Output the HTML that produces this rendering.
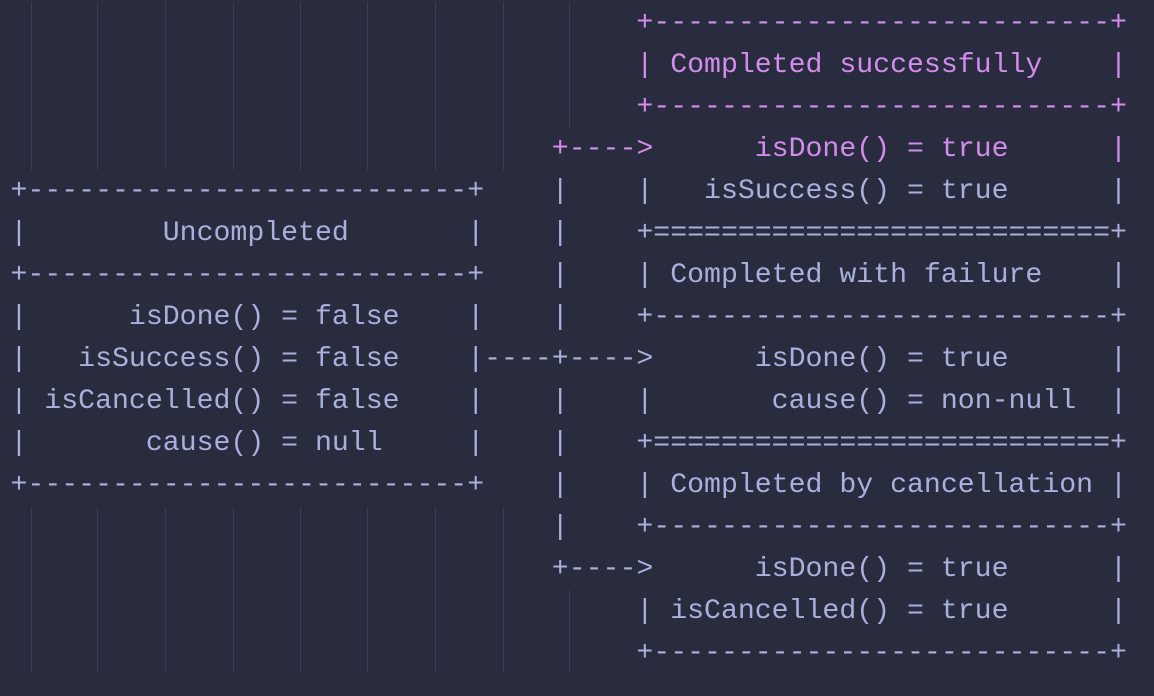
<!DOCTYPE html>
<html><head><meta charset="utf-8"><style>
html,body{margin:0;padding:0;background:#292c3e;width:1154px;height:696px;overflow:hidden}
.g{position:absolute;width:1px;background:#3a3d54}
pre{position:absolute;left:10.5px;top:3px;margin:0;font-family:"Liberation Mono",monospace;font-size:28.2px;line-height:42px;color:#aab0dc;white-space:pre}
.p{color:#d48cec}
</style></head><body>
<div class="g" style="left:31px;top:2px;height:168px"></div>
<div class="g" style="left:97px;top:2px;height:168px"></div>
<div class="g" style="left:165px;top:2px;height:168px"></div>
<div class="g" style="left:233px;top:2px;height:168px"></div>
<div class="g" style="left:300px;top:2px;height:168px"></div>
<div class="g" style="left:367px;top:2px;height:168px"></div>
<div class="g" style="left:435px;top:2px;height:168px"></div>
<div class="g" style="left:503px;top:2px;height:168px"></div>
<div class="g" style="left:569px;top:2px;height:125px"></div>
<div class="g" style="left:31px;top:507px;height:166px"></div>
<div class="g" style="left:97px;top:507px;height:166px"></div>
<div class="g" style="left:165px;top:507px;height:166px"></div>
<div class="g" style="left:233px;top:507px;height:166px"></div>
<div class="g" style="left:300px;top:507px;height:166px"></div>
<div class="g" style="left:367px;top:507px;height:166px"></div>
<div class="g" style="left:435px;top:507px;height:166px"></div>
<div class="g" style="left:503px;top:507px;height:166px"></div>
<div class="g" style="left:569px;top:590px;height:83px"></div>
<pre><span class="p">                                     +---------------------------+
                                     | Completed successfully    |
                                     +---------------------------+
                                +---->      isDone() = true      |</span>
+--------------------------+    |    |   isSuccess() = true      |
|        Uncompleted       |    |    +===========================+
+--------------------------+    |    | Completed with failure    |
|      isDone() = false    |    |    +---------------------------+
|   isSuccess() = false    |----+---->      isDone() = true      |
| isCancelled() = false    |    |    |       cause() = non-null  |
|       cause() = null     |    |    +===========================+
+--------------------------+    |    | Completed by cancellation |
                                |    +---------------------------+
                                +---->      isDone() = true      |
                                     | isCancelled() = true      |
                                     +---------------------------+</pre>
</body></html>
